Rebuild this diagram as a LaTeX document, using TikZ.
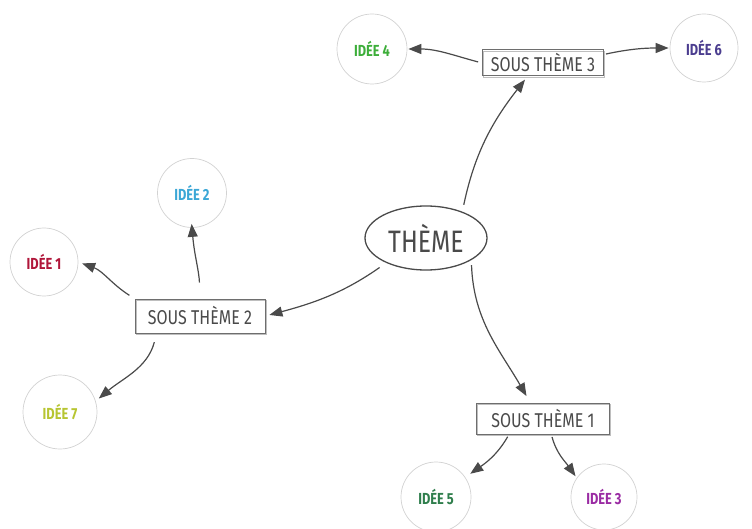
\documentclass[tikz,border=0pt]{standalone}
\usepackage{fontspec}
\usetikzlibrary{arrows.meta,shapes.geometric}
\newfontfamily\hand[FakeStretch=0.8]{Fira Sans}
\definecolor{ink}{HTML}{4A4A4A}
\definecolor{boxline}{HTML}{6E6E6E}
\definecolor{ringline}{HTML}{D2D2D2}
\definecolor{cIdeaA}{HTML}{B0163A}
\definecolor{cIdeaB}{HTML}{3BA7D6}
\definecolor{cIdeaC}{HTML}{9A2BA3}
\definecolor{cIdeaD}{HTML}{3DAE3A}
\definecolor{cIdeaE}{HTML}{2F7E4C}
\definecolor{cIdeaF}{HTML}{4B3D8F}
\definecolor{cIdeaG}{HTML}{B7C531}
\tikzset{
  themenode/.style={ellipse, draw=ink, line width=1.3pt, minimum width=122pt, minimum height=64pt, inner sep=0pt, text=ink, font=\hand\fontsize{31}{33}\selectfont},
  subbox/.style={rectangle, draw=boxline, line width=1pt, inner sep=0pt, text=ink, font=\hand\fontsize{20}{22}\selectfont,
     preaction={draw=boxline!45, line width=0.7pt, transform canvas={shift={(0.9pt,-0.9pt)}}}},
  idea/.style={circle, draw=ringline, line width=0.7pt, inner sep=0pt, font=\hand\bfseries\fontsize{16}{18}\selectfont},
  link/.style={draw=ink, line width=1.2pt, -{Triangle[length=13pt,width=10pt]}},
}
\begin{document}
\begin{tikzpicture}[x=1pt,y=-1pt]
\useasboundingbox[fill=white] (0,0) rectangle (752,529);

% central theme
\node[themenode] (theme) at (426,238) {THÈME};

% sub-themes
\node[subbox, minimum width=121pt, minimum height=26pt] (st3) at (543,63) {SOUS THÈME 3};
\node[subbox, minimum width=130pt, minimum height=34pt] (st2) at (200,316) {SOUS THÈME 2};
\node[subbox, minimum width=133pt, minimum height=31pt] (st1) at (543,419) {SOUS THÈME 1};

% ideas
\node[idea, minimum size=70pt, text=cIdeaD] (i4) at (372,49) {IDÉE 4};
\node[idea, minimum size=68pt, text=cIdeaF] (i6) at (704,48) {IDÉE 6};
\node[idea, minimum size=69pt, text=cIdeaB] (i2) at (192,193) {IDÉE 2};
\node[idea, minimum size=68pt, text=cIdeaA] (i1) at (44,262) {IDÉE 1};
\node[idea, minimum size=74pt, text=cIdeaG] (i7) at (60,412) {IDÉE 7};
\node[idea, minimum size=70pt, text=cIdeaE] (i5) at (436,497) {IDÉE 5};
\node[idea, minimum size=66pt, text=cIdeaC] (i3) at (604,497) {IDÉE 3};

% connectors
\draw[link, shorten <=7pt, shorten >=4pt] (theme.36) to[out=78,in=232] (st3.221);
\draw[link, shorten <=4pt, shorten >=1pt] (st3.west) to[out=165,in=0] (i4.east);
\draw[link, shorten <=2pt, shorten >=1pt] (st3.8) to[out=12,in=180] (i6.west);

\draw[link, shorten <=8pt, shorten >=4pt] (theme.212) to[out=215,in=15] (st2.east);
\draw[link, shorten <=16pt, shorten >=-4pt] (st2.north) to[out=92,in=-85] (i2.south);
\draw[link, shorten <=6pt, shorten >=4pt] (st2.north west) to[out=148,in=-20] (i1.east);
\draw[link, shorten <=9pt, shorten >=4pt] (st2.202) to[out=255,in=40] (i7.17);

\draw[link, shorten <=5pt, shorten >=8pt] (theme.334) to[out=272,in=120] (st1.128);
\draw[link, shorten <=2pt, shorten >=6pt] (st1.205) to[out=240,in=35] (i5.34);
\draw[link, shorten <=2pt, shorten >=2pt] (st1.298) to[out=285,in=125] (i3.145);
\end{tikzpicture}
\end{document}
